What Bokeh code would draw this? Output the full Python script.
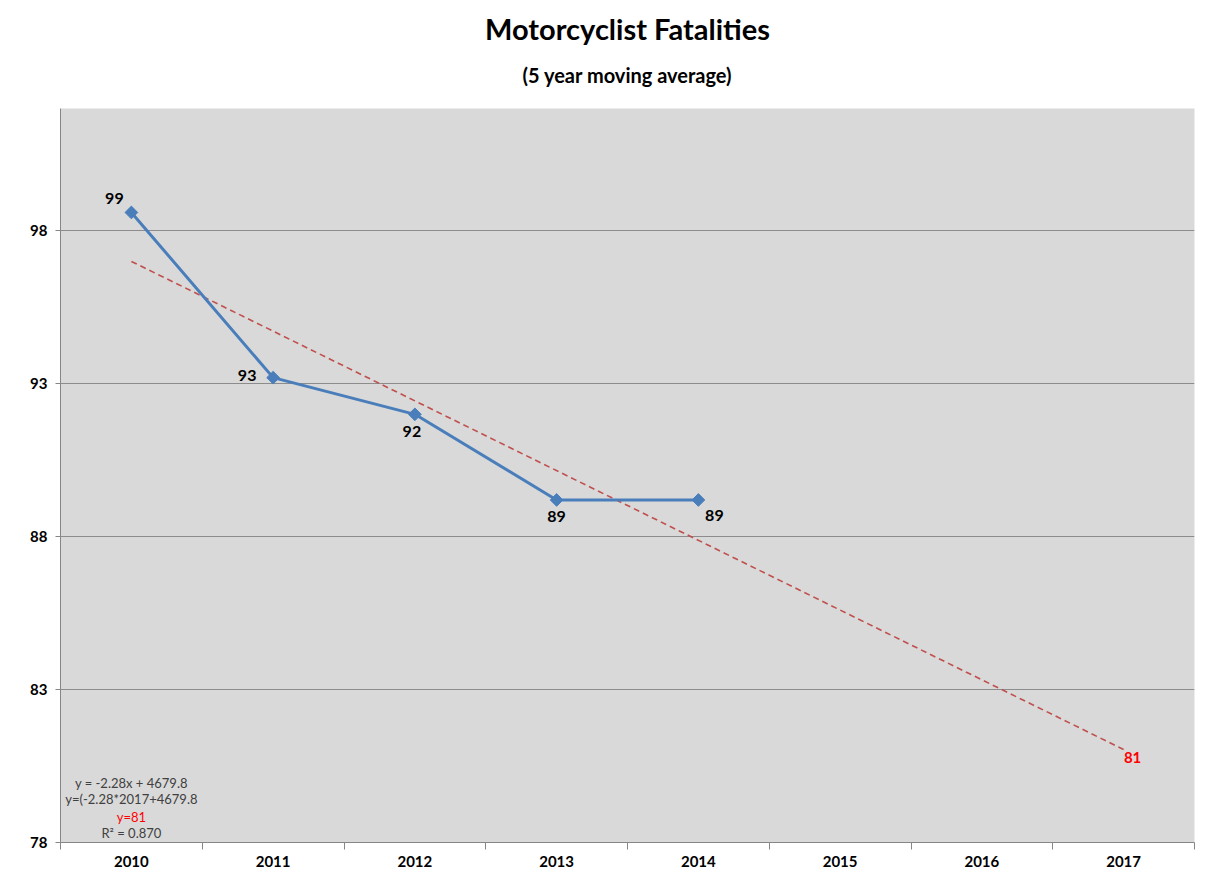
import math
from bokeh.plotting import figure
from bokeh.models import ColumnDataSource, FixedTicker, Title, Range1d
from bokeh.core.properties import value
from bokeh.embed import file_html
from bokeh.resources import INLINE

# ---- data ----
years = [2010, 2011, 2012, 2013, 2014]
fatalities = [98.6, 93.2, 92.0, 89.2, 89.2]
axis_years = [2010, 2011, 2012, 2013, 2014, 2015, 2016, 2017]
y_ticks = [78, 83, 88, 93, 98]
trend_slope = -2.28
trend_intercept = 4679.8
projection_year = 2017
r_squared = 0.870

# ---- styles ----
FONT = "Lato"
BLUE = "#4A7EBB"
TREND = "#C0504D"
label_dx = [-17, -26, -3, 0, 16]
label_dy = [-14, -2, 17, 17, 16]

p = figure(width=1203, height=870, output_backend="svg", toolbar_location=None,
           x_range=Range1d(years[0] - 0.5, axis_years[-1] + 0.5),
           y_range=Range1d(78, 102),
           min_border_left=60, min_border_right=9, min_border_top=108, min_border_bottom=28,
           title=None)
p.background_fill_color = "#D9D9D9"
p.border_fill_color = "white"
p.outline_line_color = None

# titles (sub first -> closer to plot); spacer last -> topmost
p.add_layout(Title(text="(5 year moving average)", align="center", text_font=FONT,
                   text_font_size="20px", text_font_style="bold", text_color="black",
                   standoff=44), "above")
p.add_layout(Title(text="Motorcyclist Fatalities", align="center", text_font=FONT,
                   text_font_size="29px", text_font_style="bold", text_color="black",
                   standoff=-14), "above")
p.add_layout(Title(text=" ", align="center", text_font=FONT, text_font_size="8px",
                   standoff=0), "above")

# axes
p.xaxis.ticker = FixedTicker(ticks=axis_years,
                             minor_ticks=[y - 0.5 for y in axis_years] + [axis_years[-1] + 0.5])
p.xaxis.major_tick_out = 0
p.xaxis.major_tick_in = 0
p.xaxis.minor_tick_out = 7
p.xaxis.minor_tick_in = 0
p.xaxis.minor_tick_line_color = "#868686"
p.xaxis.axis_line_color = "#868686"
p.xaxis.major_label_text_font = FONT
p.xaxis.major_label_text_font_size = "15px"
p.xaxis.major_label_text_font_style = "bold"
p.xaxis.major_label_text_color = "black"
p.xaxis.major_label_standoff = 6

p.yaxis.ticker = FixedTicker(ticks=y_ticks, minor_ticks=[])
p.yaxis.major_tick_out = 5
p.yaxis.major_tick_in = 0
p.yaxis.major_tick_line_color = "#868686"
p.yaxis.axis_line_color = "#868686"
p.yaxis.major_label_text_font = FONT
p.yaxis.major_label_text_font_size = "15px"
p.yaxis.major_label_text_font_style = "bold"
p.yaxis.major_label_text_color = "black"
p.yaxis.major_label_standoff = 8

p.xgrid.grid_line_color = None
p.ygrid.grid_line_color = "#8C8C8C"
p.ygrid.grid_line_width = 1

# trend line
trend_x = [years[0], projection_year]
trend_y = [trend_slope * x + trend_intercept for x in trend_x]
p.line(trend_x, trend_y, line_color=TREND, line_width=1.6, line_dash="6 4")
proj = trend_slope * projection_year + trend_intercept
p.text(x=[projection_year], y=[proj], text=[f"{proj:.0f}"], x_offset=9, y_offset=8,
       text_font=value(FONT), text_font_size="15px", text_font_style="bold",
       text_color="#FF0000", text_align="center", text_baseline="middle")

# series
src = ColumnDataSource(dict(x=years, y=fatalities, lab=[f"{v:.0f}" for v in fatalities],
                            dx=label_dx, dy=label_dy))
p.line("x", "y", source=src, line_color=BLUE, line_width=3)
p.scatter("x", "y", source=src, marker="square", angle=math.pi / 4, size=9,
          fill_color=BLUE, line_color=BLUE)
p.text("x", "y", text="lab", source=src, x_offset="dx", y_offset="dy",
       text_font=value(FONT), text_font_size="16px", text_font_style="bold",
       text_color="black", text_align="center", text_baseline="middle")

# equation block
eq_lines = [f"y = {trend_slope}x + {trend_intercept}",
            f"y=({trend_slope}*{projection_year}+{trend_intercept}",
            f"y={proj:.0f}",
            f"R² = {r_squared:.3f}"]
eq_colors = ["#404040", "#404040", "#FF0000", "#404040"]
eq_y = [79.93, 79.41, 78.82, 78.30]
p.text(x=[years[0]] * 4, y=eq_y, text=eq_lines, text_color=eq_colors,
       text_font=value(FONT), text_font_size="13px", text_align="center",
       text_baseline="middle")

open("out.html", "w").write(file_html(p, INLINE))
